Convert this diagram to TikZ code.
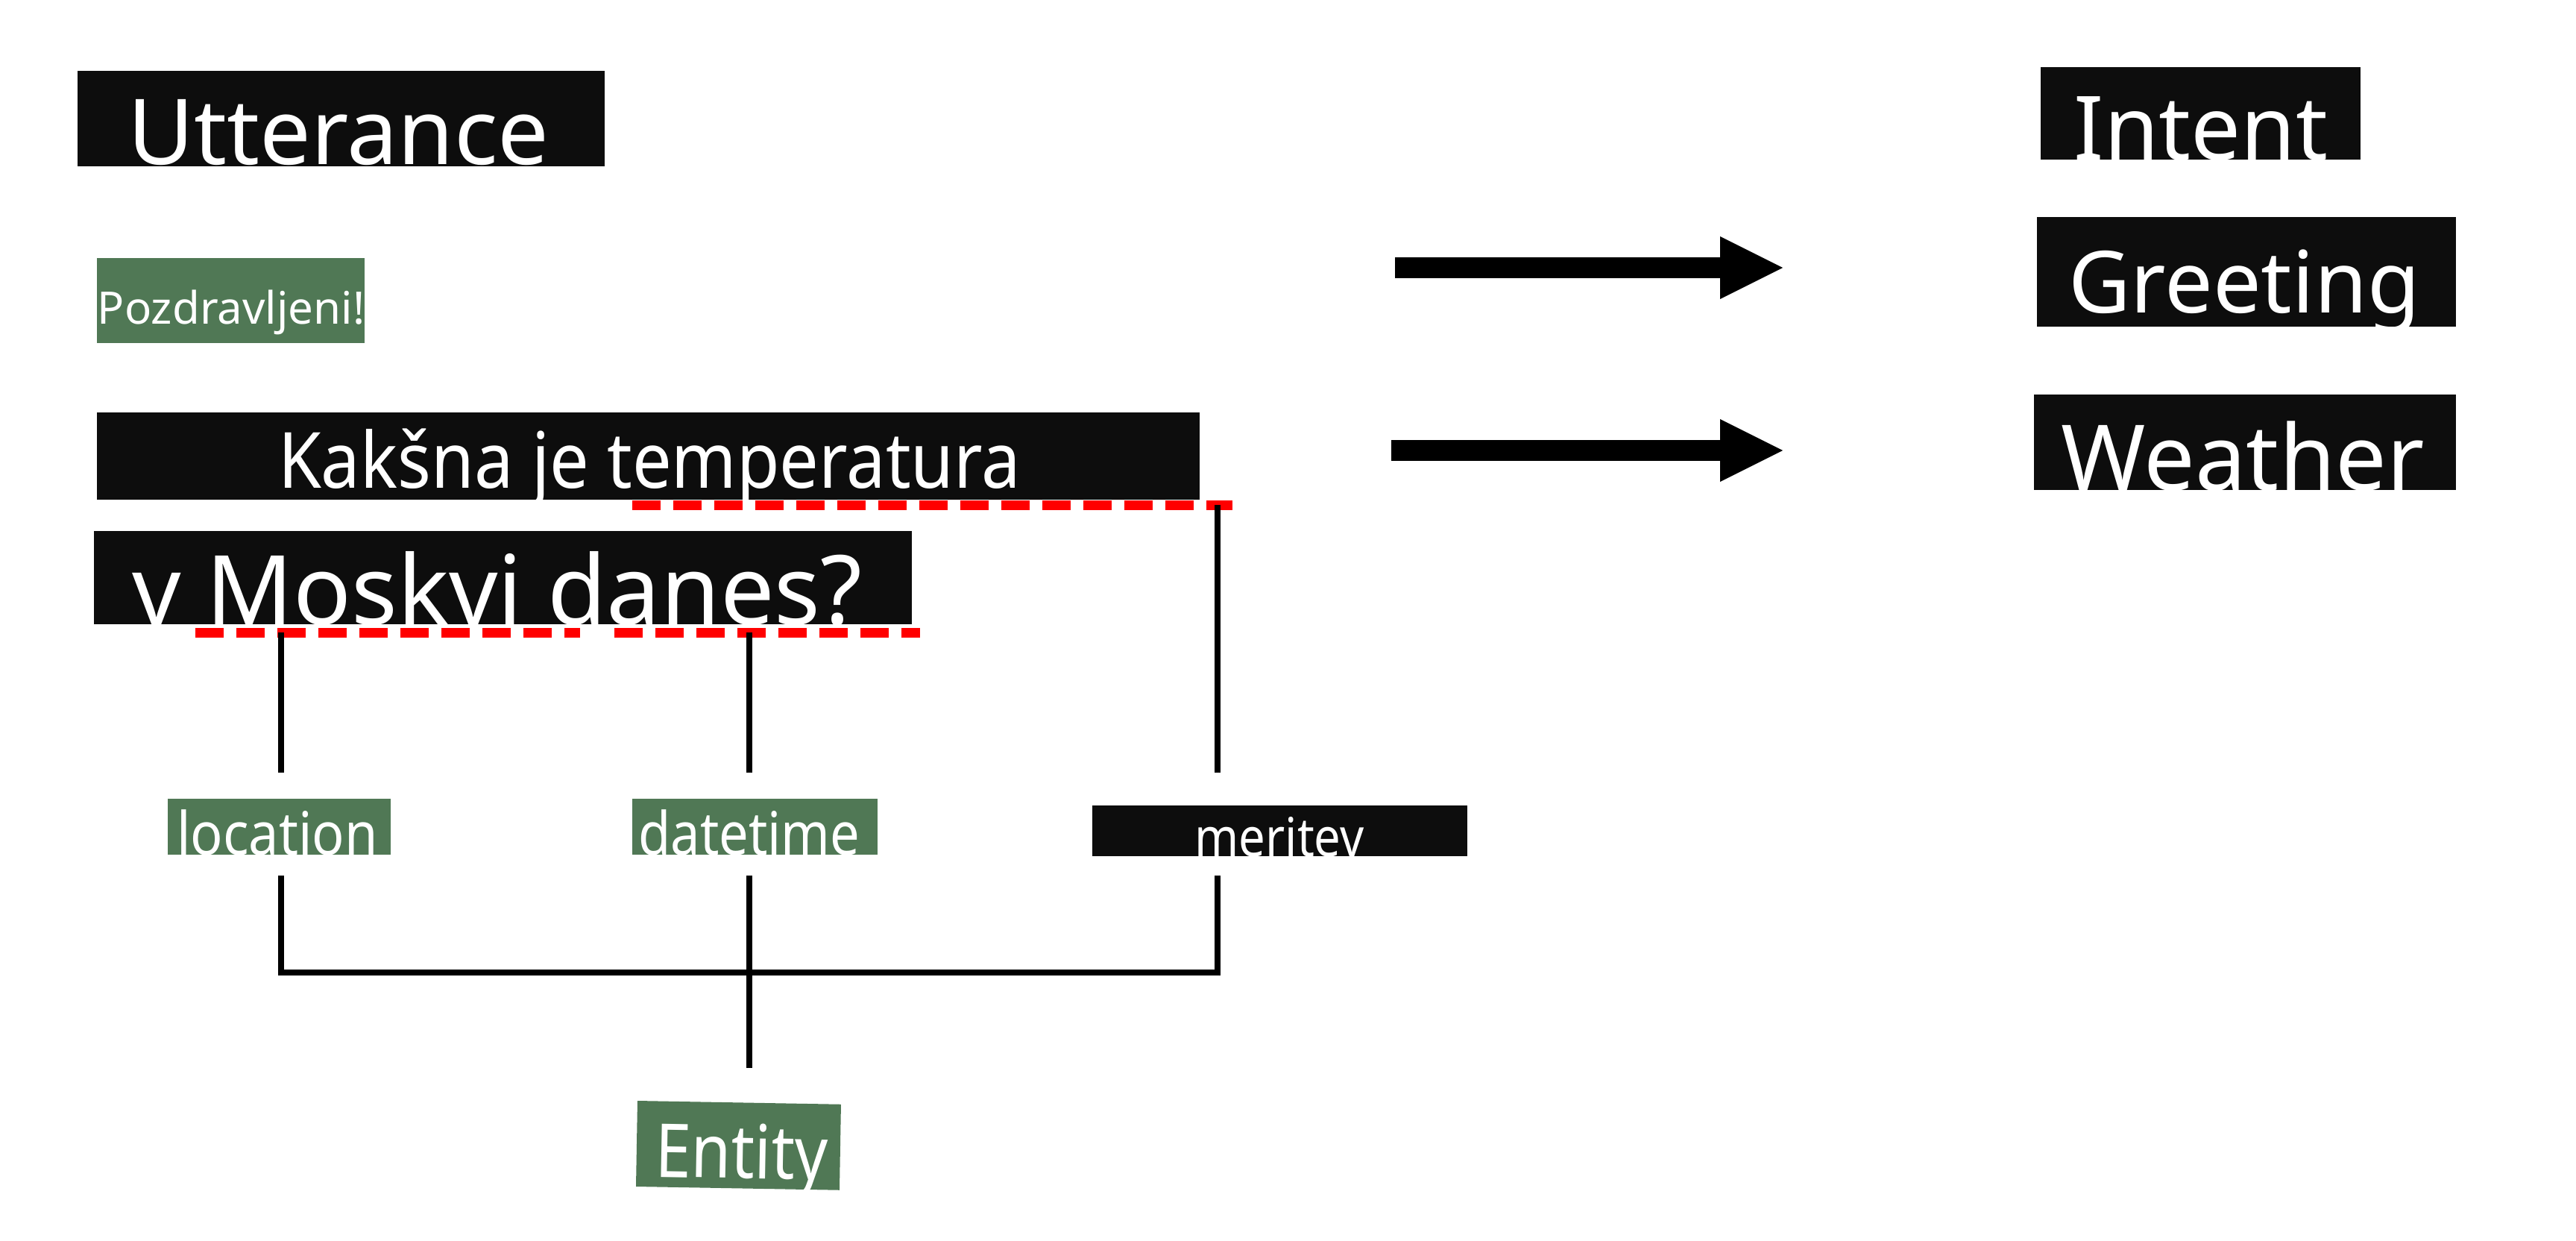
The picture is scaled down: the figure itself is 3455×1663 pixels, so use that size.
\documentclass[tikz,border=0pt]{standalone}
\usepackage{fontspec}
\setmainfont{Noto Sans}
\usetikzlibrary{arrows.meta}
\definecolor{boxblack}{HTML}{0D0D0D}
\definecolor{boxgreen}{HTML}{507855}
\newcommand{\fsz}[1]{\fontsize{#1}{#1}\selectfont}
\newcommand{\xs}[2]{\scalebox{#1}[1]{#2}}
\begin{document}
\begin{tikzpicture}[x=1pt,y=-1pt,
  darkbox/.style={fill=boxblack, draw=none, inner sep=0pt, outer sep=0pt, anchor=north west},
  greenbox/.style={fill=boxgreen, draw=none, inner sep=0pt, outer sep=0pt, anchor=north west},
  boxtext/.style={text=white, inner sep=0pt, anchor=base},
  link/.style={line width=8pt, draw=black, line join=miter},
  redline/.style={draw=red, line width=13pt, dash pattern=on 38pt off 17pt},
  bigarrow/.style={line width=28pt, -{Triangle[length=84pt,width=84pt,line width=0pt]}}]
\useasboundingbox (0,0) rectangle (3455,1663);
\fill[white] (0,0) rectangle (3455,1663);

% boxes
\node[darkbox, minimum width=707pt, minimum height=128pt] (uttbox) at (104,95) {};
\node[greenbox, minimum width=359pt, minimum height=114pt] (pozbox) at (130,346) {};
\node[darkbox, minimum width=1479pt, minimum height=117pt] (q1box) at (130,553) {};
\node[darkbox, minimum width=1097pt, minimum height=125pt] (q2box) at (126,712) {};
\node[greenbox, minimum width=299pt, minimum height=75pt] (locbox) at (225,1071) {};
\node[greenbox, minimum width=329pt, minimum height=75pt] (datbox) at (848,1071) {};
\node[darkbox, minimum width=503pt, minimum height=68pt] (merbox) at (1465,1080) {};
\node[greenbox, minimum width=273pt, minimum height=115pt, rotate=-1] (entbox) at (855,1476) {};
\node[darkbox, minimum width=429pt, minimum height=124pt] (intbox) at (2737,90) {};
\node[darkbox, minimum width=562pt, minimum height=147pt] (grebox) at (2732,291) {};
\node[darkbox, minimum width=566pt, minimum height=128pt] (weabox) at (2728,529) {};

% texts
\node[boxtext] (utt) at (454,220) {\fsz{122}Utterance};
\node[boxtext] (poz) at (310,434) {\fsz{60}Pozdravljeni!};
\node[boxtext] (q1) at (871,654) {\fsz{104}\xs{0.9}{Kakšna je temperatura}};
\node[boxtext] (q2) at (667,837) {\fsz{129}v Moskvi danes?};
\node[boxtext] (loc) at (372,1146) {\fsz{80}\xs{0.9}{location}};
\node[boxtext] (dat) at (1005,1146) {\fsz{80}\xs{0.88}{datetime}};
\node[boxtext] (mer) at (1716,1148) {\fsz{72}\xs{0.88}{meritev}};
\node[boxtext, rotate=-1] (ent) at (994,1580) {\fsz{100}\xs{0.87}{Entity}};
\node[boxtext] (int) at (2952,214) {\fsz{119}Intent};
\node[boxtext] (gre) at (3010,419) {\fsz{115}Greeting};
\node[boxtext] (wea) at (3008,657) {\fsz{122}Weather};

% red underlines
\coordinate (u1a) at (848,677);
\coordinate (u1b) at (1653,677);
\coordinate (u2a) at (262,848);
\coordinate (u2b) at (778,848);
\coordinate (u3a) at (824,848);
\coordinate (u3b) at (1234,848);
\draw[redline] (u1a) -- (u1b);
\draw[redline] (u2a) -- (u2b);
\draw[redline] (u3a) -- (u3b);

% connectors
\coordinate (locTop) at (377,848);
\coordinate (locUp) at (377,1036);
\coordinate (datTop) at (1005,848);
\coordinate (datUp) at (1005,1036);
\coordinate (merTop) at (1633,677);
\coordinate (merUp) at (1633,1036);
\draw[link] (locTop) -- (locUp);
\draw[link] (datTop) -- (datUp);
\draw[link] (merTop) -- (merUp);

\coordinate (locDn) at (377,1174);
\coordinate (datDn) at (1005,1174);
\coordinate (merDn) at (1633,1174);
\coordinate (join1) at (377,1304);
\coordinate (join3) at (1633,1304);
\coordinate (entUp) at (1005,1432);
\draw[link] (locDn) -- (join1) -- (join3) -- (merDn);
\draw[link] (datDn) -- (entUp);

% arrows
\coordinate (a1s) at (1871,359);
\coordinate (a1e) at (2391,359);
\coordinate (a2s) at (1866,604);
\coordinate (a2e) at (2391,604);
\draw[bigarrow] (a1s) -- (a1e);
\draw[bigarrow] (a2s) -- (a2e);
\end{tikzpicture}
\end{document}
